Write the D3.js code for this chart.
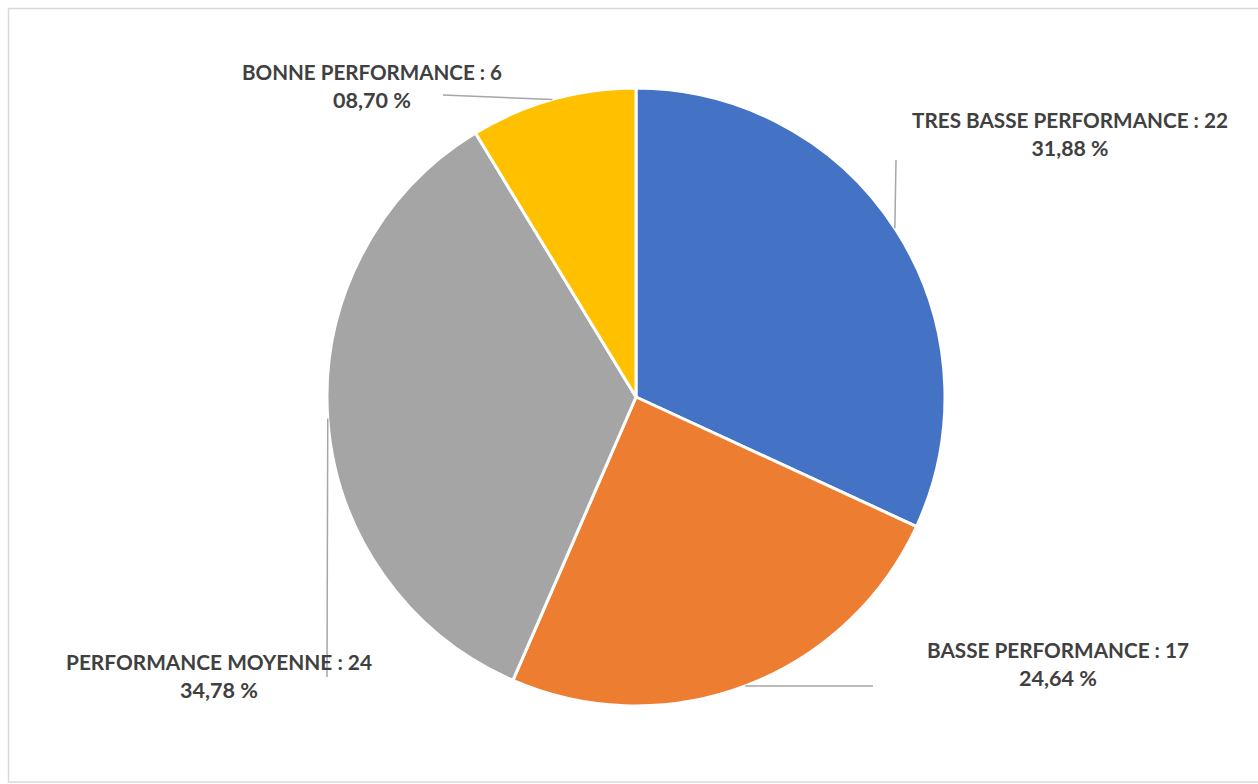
<!DOCTYPE html>
<html>
<head>
<meta charset="utf-8">
<script src="https://cdn.jsdelivr.net/npm/d3@7"></script>
<style>
  html, body { margin: 0; padding: 0; background: #fff; }
  svg { display: block; }
</style>
</head>
<body>
<svg id="chart" width="1258" height="784"></svg>
<script>
// Performance categories and counts
const categories = ["TRES BASSE PERFORMANCE", "BASSE PERFORMANCE", "PERFORMANCE MOYENNE", "BONNE PERFORMANCE"];
const counts = [22, 17, 24, 6];
const percentLabels = ["31,88 %", "24,64 %", "34,78 %", "08,70 %"];
const colors = ["#4472C4", "#ED7D31", "#A5A5A5", "#FFC000"];

const W = 1258, H = 784;
const cx = 636, cy = 397, R = 309;

const svg = d3.select("#chart");

// chart area frame
svg.append("rect")
  .attr("x", 8.5).attr("y", 8.5)
  .attr("width", W + 10).attr("height", 773.5)
  .attr("fill", "#fff").attr("stroke", "#d9d9d9").attr("stroke-width", 1.5);

const pie = d3.pie().sort(null).value(d => d.value);
const data = categories.map((c, i) => ({ name: c, value: counts[i], pct: percentLabels[i], color: colors[i] }));
const arcs = pie(data);
const arc = d3.arc().innerRadius(0).outerRadius(R);

const g = svg.append("g").attr("transform", `translate(${cx},${cy})`);

g.selectAll("path.slice")
  .data(arcs)
  .join("path")
  .attr("class", "slice")
  .attr("d", arc)
  .attr("fill", d => d.data.color)
  .attr("stroke", "#fff")
  .attr("stroke-width", 3)
  .attr("stroke-linejoin", "round");

// label placement: text centre, baseline of first line, line widths,
// leader angle on the rim (degrees clockwise from top) and the leader's far end
const labelLayout = [
  { x: 1070, y: 128, w1: 316, w2: 77, rim: 56.9, end: [896, 160] },
  { x: 1058, y: 658, w1: 262, w2: 78, rim: 159.3, end: [873, 686] },
  { x: 219, y: 670, w1: 306, w2: 78, rim: 266, end: [327, 677] },
  { x: 372, y: 80, w1: 260, w2: 78, rim: 344.3, end: [443, 95] }
];

const leaders = svg.append("g");
const labels = svg.append("g")
  .attr("font-family", "Lato, 'Open Sans', sans-serif")
  .attr("font-weight", "bold")
  .attr("font-size", 20)
  .attr("fill", "#404040")
  .attr("text-anchor", "middle");

arcs.forEach((a, i) => {
  const L = labelLayout[i];
  const t = L.rim * Math.PI / 180;
  const rx = cx + R * Math.sin(t), ry = cy - R * Math.cos(t);
  leaders.append("line")
    .attr("x1", rx).attr("y1", ry)
    .attr("x2", L.end[0]).attr("y2", L.end[1])
    .attr("stroke", "#a6a6a6").attr("stroke-width", 1.5);

  labels.append("text")
    .attr("x", L.x).attr("y", L.y)
    .attr("textLength", L.w1).attr("lengthAdjust", "spacingAndGlyphs")
    .text(`${a.data.name} : ${a.data.value}`);
  labels.append("text")
    .attr("x", L.x).attr("y", L.y + 28)
    .attr("textLength", L.w2).attr("lengthAdjust", "spacingAndGlyphs")
    .text(a.data.pct);
});
</script>
</body>
</html>
